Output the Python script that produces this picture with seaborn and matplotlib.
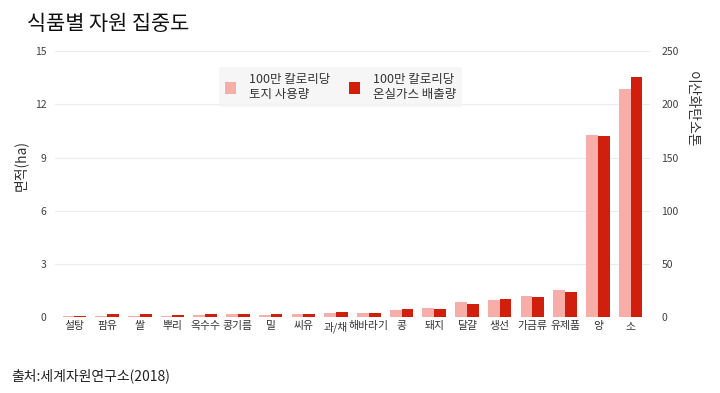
import numpy as np
import pandas as pd
import matplotlib
matplotlib.use("Agg")
import matplotlib.pyplot as plt
from matplotlib.patches import Patch
import seaborn as sns

categories = ["설탕", "팜유", "쌀", "뿌리", "옥수수", "콩기름", "밀", "씨유", "과/채",
              "해바라기", "콩", "돼지", "달걀", "생선", "가금류", "유제품", "양", "소"]
land_ha = [0.04, 0.04, 0.09, 0.09, 0.11, 0.15, 0.13, 0.17, 0.25,
           0.26, 0.41, 0.53, 0.83, 0.94, 1.22, 1.52, 10.25, 12.86]
co2_t = [1.3, 2.5, 2.8, 2.2, 2.5, 3.1, 2.5, 2.8, 4.4,
         3.8, 7.2, 8.1, 12.5, 17.5, 18.8, 23.5, 170, 225.6]
series = ["100만 칼로리당\n토지 사용량", "100만 칼로리당\n온실가스 배출량"]
left_ticks = [0, 3, 6, 9, 12, 15]
right_ticks = [0, 50, 100, 150, 200, 250]

light = "#f7aea8"
red = "#d11f0e"

sns.set_theme(style="white")
plt.rcParams["font.family"] = ["Noto Sans CJK KR", "DejaVu Sans"]

fig = plt.figure(figsize=(7.2, 3.93), dpi=100)
ax = fig.add_axes([0.076, 0.193, 0.827, 0.677])
ax2 = ax.twinx()

df_a_pad = pd.concat([
    pd.DataFrame({"cat": categories, "val": land_ha, "s": series[0]}),
    pd.DataFrame({"cat": categories, "val": [0.0] * len(categories), "s": series[1]}),
])
df_b_pad = pd.concat([
    pd.DataFrame({"cat": categories, "val": [0.0] * len(categories), "s": series[0]}),
    pd.DataFrame({"cat": categories, "val": co2_t, "s": series[1]}),
])

sns.barplot(data=df_a_pad, x="cat", y="val", hue="s", hue_order=series, order=categories,
            palette=[light, light], width=0.72, ax=ax, legend=False, errorbar=None,
            saturation=1, linewidth=0)
sns.barplot(data=df_b_pad, x="cat", y="val", hue="s", hue_order=series, order=categories,
            palette=[red, red], width=0.72, ax=ax2, legend=False, errorbar=None,
            saturation=1, linewidth=0)

ax.set_ylim(0, 15)
ax2.set_ylim(0, 250)
ax.set_xlim(-0.6, len(categories) - 0.4)
ax.set_yticks(left_ticks)
ax2.set_yticks(right_ticks)
ax.yaxis.grid(True, color="#ececec", linewidth=0.8)
ax.set_axisbelow(True)
for a in (ax, ax2):
    for sp in a.spines.values():
        sp.set_visible(False)
    a.set_xlabel("")
ax.tick_params(axis="y", length=0, labelsize=7.5, labelcolor="#404040", pad=6)
ax2.tick_params(axis="y", length=0, labelsize=7.5, labelcolor="#404040", pad=8)
ax.tick_params(axis="x", length=0, labelsize=7.8, labelcolor="#333333", pad=3)
ax.set_ylabel("면적(ha)", fontsize=10, color="#333333")
ax.yaxis.set_label_coords(-0.045, 0.57)
ax2.set_ylabel("이산화탄소톤", fontsize=10, color="#333333", rotation=270, va="center")
ax2.yaxis.set_label_coords(1.07, 0.78)

handles = [Patch(facecolor=light, edgecolor="none"), Patch(facecolor=red, edgecolor="none")]
leg = ax.legend(handles, series, ncol=2, loc="upper center", bbox_to_anchor=(0.48, 0.965),
                frameon=True, fontsize=9, handlelength=0.9, handleheight=1.1,
                columnspacing=1.5, handletextpad=1.0, borderpad=0.5)
leg.get_frame().set_facecolor("#f4f4f4")
leg.get_frame().set_edgecolor("none")
for t in leg.get_texts():
    t.set_color("#333333")

fig.text(0.038, 0.94, "식품별 자원 집중도", fontsize=15, color="#111111", ha="left", va="center")
fig.text(0.016, 0.045, "출처:세계자원연구소(2018)", fontsize=10, color="#222222", ha="left", va="center")

fig.savefig("out.png", dpi=100, facecolor="white")
